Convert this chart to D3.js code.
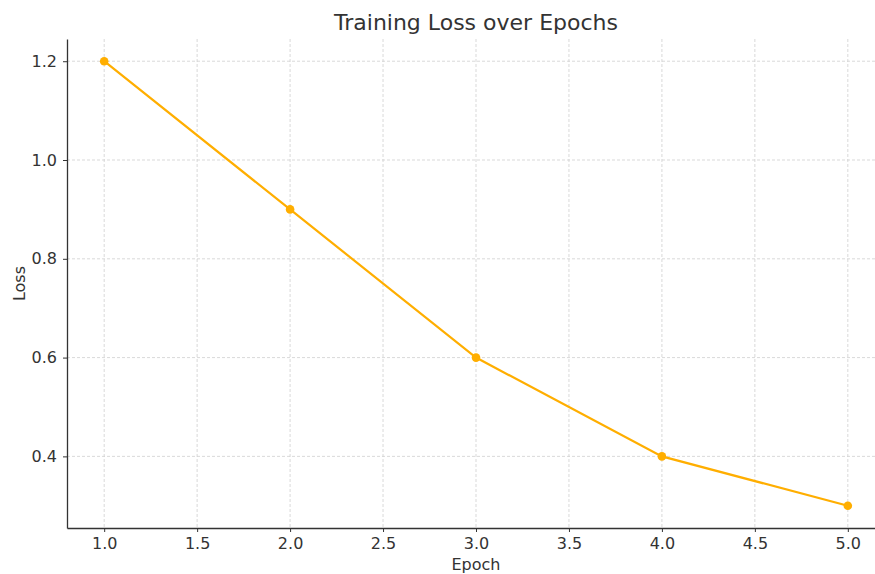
<!DOCTYPE html>
<html>
<head>
<meta charset="utf-8">
<script src="https://cdn.jsdelivr.net/npm/d3@7"></script>
<style>
  body { margin: 0; background: #fff; }
  svg { display: block; font-family: 'DejaVu Sans', sans-serif; }
</style>
</head>
<body>
<div id="chart"></div>
<script>
const EPOCHS = [1, 2, 3, 4, 5],
      LOSS = [1.2, 0.9, 0.6, 0.4, 0.3],
      X_TICKS = [1.0, 1.5, 2.0, 2.5, 3.0, 3.5, 4.0, 4.5, 5.0],
      Y_TICKS = [0.4, 0.6, 0.8, 1.0, 1.2]

const SIZE = Object.freeze({ WIDTH: 875, HEIGHT: 574 }),
      PLOT = Object.freeze({ LEFT: 67, RIGHT: 885, TOP: 39, BOTTOM: 528 }),
      TEXT_COLOR = '#333333',
      LINE_COLOR = '#FFAE00'

const data = EPOCHS.map((e, i) => ({ epoch: e, loss: LOSS[i] }))

const xScale = d3.scaleLinear()
  .domain([0.8, 5.2])
  .range([PLOT.LEFT, PLOT.RIGHT])

const yScale = d3.scaleLinear()
  .domain([0.255, 1.245])
  .range([PLOT.BOTTOM, PLOT.TOP])

const svg = d3.select('#chart')
  .append('svg')
  .attr('width', SIZE.WIDTH)
  .attr('height', SIZE.HEIGHT)

// grid
svg.append('g')
  .selectAll('line')
  .data(X_TICKS)
  .enter()
  .append('line')
  .attr('x1', d => xScale(d))
  .attr('x2', d => xScale(d))
  .attr('y1', PLOT.TOP)
  .attr('y2', PLOT.BOTTOM)
  .attr('stroke', '#cfcfcf')
  .attr('stroke-width', 0.8)
  .attr('stroke-dasharray', '3,2')

svg.append('g')
  .selectAll('line')
  .data(Y_TICKS)
  .enter()
  .append('line')
  .attr('x1', PLOT.LEFT)
  .attr('x2', PLOT.RIGHT)
  .attr('y1', d => yScale(d))
  .attr('y2', d => yScale(d))
  .attr('stroke', '#cfcfcf')
  .attr('stroke-width', 0.8)
  .attr('stroke-dasharray', '3,2')

const xAxis = d3.axisBottom(xScale)
  .tickValues(X_TICKS)
  .tickFormat(d3.format('.1f'))
  .tickSize(4)
  .tickPadding(6)
  .tickSizeOuter(0)

const yAxis = d3.axisLeft(yScale)
  .tickValues(Y_TICKS)
  .tickFormat(d3.format('.1f'))
  .tickSize(4)
  .tickPadding(6)
  .tickSizeOuter(0)

const gx = svg.append('g')
  .attr('transform', `translate(0, ${PLOT.BOTTOM})`)
  .call(xAxis)

const gy = svg.append('g')
  .attr('transform', `translate(${PLOT.LEFT}, 0)`)
  .call(yAxis)

;[gx, gy].forEach(g => {
  g.select('.domain').attr('stroke', TEXT_COLOR).attr('stroke-width', 1.3)
  g.selectAll('.tick line').attr('stroke', TEXT_COLOR).attr('stroke-width', 1)
  g.selectAll('.tick text')
    .attr('fill', TEXT_COLOR)
    .style('font-size', '16px')
    .style('font-family', "'DejaVu Sans', sans-serif")
})

// line
const line = d3.line()
  .x(d => xScale(d.epoch))
  .y(d => yScale(d.loss))

svg.append('path')
  .datum(data)
  .attr('fill', 'none')
  .attr('stroke', LINE_COLOR)
  .attr('stroke-width', 2.2)
  .attr('d', line)

svg.append('g')
  .selectAll('circle')
  .data(data)
  .enter()
  .append('circle')
  .attr('cx', d => xScale(d.epoch))
  .attr('cy', d => yScale(d.loss))
  .attr('r', 4.3)
  .attr('fill', LINE_COLOR)

// labels
svg.append('text')
  .attr('x', (PLOT.LEFT + PLOT.RIGHT) / 2)
  .attr('y', 30)
  .attr('text-anchor', 'middle')
  .attr('fill', TEXT_COLOR)
  .style('font-size', '22px')
  .text('Training Loss over Epochs')

svg.append('text')
  .attr('x', (PLOT.LEFT + PLOT.RIGHT) / 2)
  .attr('y', 570)
  .attr('text-anchor', 'middle')
  .attr('fill', TEXT_COLOR)
  .style('font-size', '16px')
  .text('Epoch')

svg.append('text')
  .attr('transform', `translate(25, ${(PLOT.TOP + PLOT.BOTTOM) / 2}) rotate(-90)`)
  .attr('text-anchor', 'middle')
  .attr('fill', TEXT_COLOR)
  .style('font-size', '16px')
  .text('Loss')
</script>
</body>
</html>
